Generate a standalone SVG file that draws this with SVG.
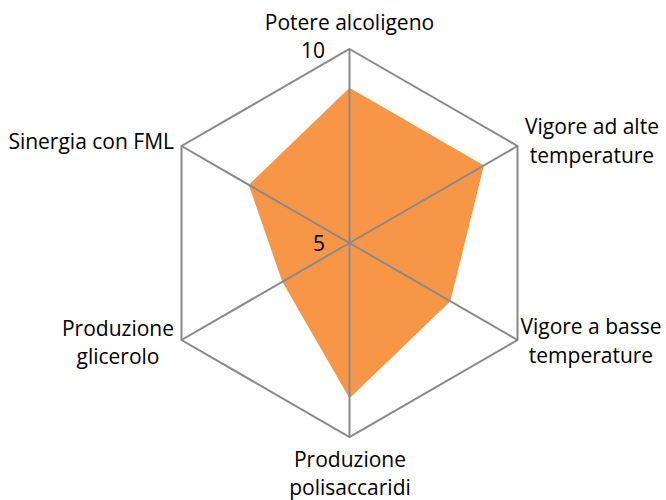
<svg xmlns="http://www.w3.org/2000/svg" width="666" height="500" viewBox="0 0 666 500">
<style>
.grid{fill:none;stroke:#898989;stroke-width:2}
.t{font-family:"Open Sans","Liberation Sans",sans-serif;font-size:21px;fill:#000}
</style>
<rect width="666" height="500" fill="#fff"/>
<g id="data">
<polygon points="349.5,87.8 483.9,165.4 450.3,301.2 349.5,398.2 282.3,281.8 248.7,184.8" fill="#F79646"/>
</g>
<g id="grid">
<polygon class="grid" points="349.5,49 517.5,146 517.5,340 349.5,437 181.5,340 181.5,146"/>
<path class="grid" d="M349.5,243L349.5,49M349.5,243L517.5,146M349.5,243L517.5,340M349.5,243L349.5,437M349.5,243L181.5,340M349.5,243L181.5,146"/>
</g>
<g id="labels">
<text class="t" x="349.5" y="29.5" text-anchor="middle">Potere alcoligeno</text>
<text class="t" x="325" y="58" text-anchor="end">10</text>
<text class="t" x="325" y="251" text-anchor="end">5</text>
<text class="t" x="592" y="134" text-anchor="middle">Vigore ad alte</text>
<text class="t" x="592" y="163" text-anchor="middle">temperature</text>
<text class="t" x="591" y="334" text-anchor="middle">Vigore a basse</text>
<text class="t" x="591" y="363" text-anchor="middle">temperature</text>
<text class="t" x="350" y="467" text-anchor="middle">Produzione</text>
<text class="t" x="350" y="495" text-anchor="middle">polisaccaridi</text>
<text class="t" x="118" y="336" text-anchor="middle">Produzione</text>
<text class="t" x="118" y="364" text-anchor="middle">glicerolo</text>
<text class="t" x="174" y="149" text-anchor="end">Sinergia con FML</text>
</g>
</svg>
